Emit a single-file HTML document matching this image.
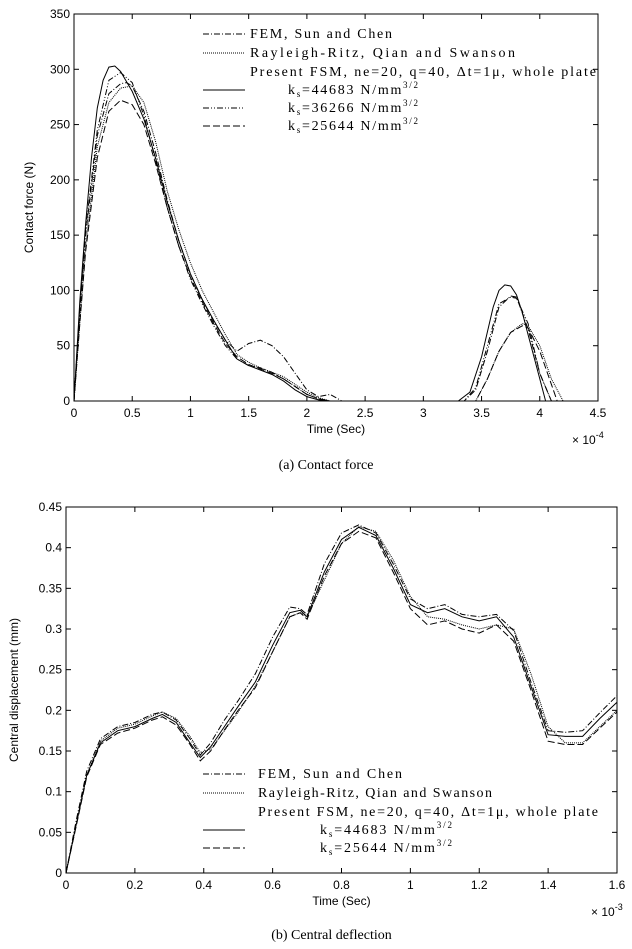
<!DOCTYPE html>
<html><head><meta charset="utf-8"><style>
body{margin:0;background:#fff;width:632px;height:944px;overflow:hidden}
svg text{font-family:"Liberation Sans",sans-serif;font-size:12px;fill:#000}
.serif{font-family:"Liberation Serif",serif !important;font-size:14px}
</style></head><body>
<svg id="svg" width="632" height="944" xmlns="http://www.w3.org/2000/svg"></svg>
<script>
// ---- Chart (a) contact force, time in 1e-4 s ----
const aTicksX=[0,0.5,1,1.5,2,2.5,3,3.5,4,4.5];
const aTicksY=[0,50,100,150,200,250,300,350];
const aSolidT=[0,0.05,0.1,0.15,0.2,0.25,0.3,0.35,0.4,0.5,0.6,0.7,0.8,0.9,1.0,1.1,1.2,1.3,1.4,1.5,1.6,1.7,1.8,1.9,2.0,2.1,2.2,3.3,3.4,3.5,3.6,3.65,3.7,3.75,3.8,3.85,3.9,4.0,4.05];
const aSolidV=[0,90,160,220,265,290,302,303,298,280,255,220,180,145,115,92,73,55,38,32,28,24,18,10,4,1,0,0,8,40,85,100,105,104,96,80,60,20,0];
const aFemT=[0,0.05,0.1,0.2,0.3,0.4,0.45,0.5,0.6,0.7,0.8,0.9,1.0,1.1,1.2,1.3,1.4,1.5,1.6,1.7,1.8,1.9,2.0,2.1,2.2,2.3,3.35,3.45,3.55,3.65,3.75,3.8,3.9,4.0,4.1];
const aFemV=[0,80,150,240,278,287,288,285,262,225,182,145,115,92,72,55,45,52,55,50,40,25,10,4,6,0,0,10,45,85,95,94,65,25,0];
const aRrT=[0,0.05,0.1,0.2,0.3,0.4,0.5,0.6,0.7,0.8,0.9,1.0,1.1,1.2,1.3,1.4,1.5,1.6,1.7,1.8,1.9,2.0,2.1,2.2,3.45,3.55,3.65,3.75,3.85,3.9,4.0,4.1,4.2];
const aRrV=[0,70,140,230,270,283,285,270,235,190,155,125,100,80,60,42,35,30,26,22,15,8,3,0,0,20,45,62,70,68,50,20,0];
const aK2T=[0,0.05,0.1,0.2,0.3,0.4,0.5,0.6,0.7,0.8,0.9,1.0,1.1,1.2,1.3,1.4,1.5,1.6,1.7,1.8,1.9,2.0,2.1,2.2,3.35,3.45,3.55,3.65,3.75,3.8,3.9,4.0,4.1];
const aK2V=[0,85,155,245,290,297,288,258,218,175,140,110,88,68,50,38,32,30,26,20,13,6,2,0,0,12,50,88,94,93,70,25,0];
const aK3T=[0,0.05,0.1,0.2,0.3,0.4,0.5,0.6,0.7,0.8,0.9,1.0,1.1,1.2,1.3,1.4,1.5,1.6,1.7,1.8,1.9,2.0,2.1,2.2,3.45,3.55,3.65,3.75,3.85,3.9,4.0,4.1,4.15];
const aK3V=[0,70,135,220,262,272,268,250,215,175,140,112,90,70,52,40,33,29,25,20,13,6,2,0,0,20,45,62,68,66,45,15,0];
// ---- Chart (b) central deflection, time in 1e-3 s ----
const bTicksX=[0,0.2,0.4,0.6,0.8,1,1.2,1.4,1.6];
const bTicksY=[0,0.05,0.1,0.15,0.2,0.25,0.3,0.35,0.4,0.45];
const bT=[0,0.03,0.06,0.1,0.15,0.2,0.25,0.28,0.32,0.36,0.39,0.42,0.46,0.5,0.55,0.6,0.65,0.68,0.7,0.75,0.8,0.85,0.9,0.95,1.0,1.05,1.1,1.15,1.2,1.25,1.3,1.35,1.4,1.45,1.5,1.55,1.6];
const bSolid=[0,0.06,0.12,0.16,0.175,0.18,0.19,0.195,0.185,0.16,0.142,0.155,0.18,0.205,0.235,0.28,0.32,0.323,0.315,0.37,0.41,0.425,0.415,0.375,0.33,0.32,0.325,0.315,0.31,0.315,0.29,0.23,0.17,0.168,0.168,0.19,0.21];
const bFem=[0,0.065,0.125,0.165,0.18,0.185,0.195,0.198,0.188,0.165,0.145,0.16,0.188,0.212,0.245,0.29,0.327,0.325,0.318,0.38,0.418,0.428,0.418,0.38,0.337,0.325,0.33,0.318,0.315,0.318,0.298,0.235,0.175,0.173,0.175,0.197,0.218];
const bRr=[0,0.06,0.12,0.162,0.178,0.183,0.193,0.198,0.19,0.168,0.148,0.152,0.175,0.198,0.23,0.272,0.315,0.32,0.315,0.36,0.405,0.426,0.42,0.385,0.34,0.315,0.312,0.305,0.3,0.305,0.3,0.245,0.18,0.16,0.16,0.18,0.2];
const bK3=[0,0.058,0.118,0.158,0.172,0.178,0.188,0.192,0.182,0.158,0.138,0.15,0.176,0.2,0.228,0.272,0.315,0.32,0.312,0.365,0.405,0.42,0.412,0.37,0.325,0.305,0.31,0.3,0.295,0.305,0.285,0.225,0.162,0.158,0.158,0.178,0.198];

const svg=document.getElementById('svg');const NS='http://www.w3.org/2000/svg';
function el(tag,attrs,parent){const e=document.createElementNS(NS,tag);for(const k in attrs)e.setAttribute(k,attrs[k]);(parent||svg).appendChild(e);return e;}
function txt(x,y,s,anchor,cls,parent){const t=el('text',{x:x,y:y,'text-anchor':anchor||'start'},parent);if(cls)t.setAttribute('class',cls);t.textContent=s;return t;}

function chart(cfg){
  const g=el('g',{});
  
  
  const sx=v=>cfg.x0+(v-cfg.xmin)/(cfg.xmax-cfg.xmin)*(cfg.x1-cfg.x0);
  const sy=v=>cfg.y0-(v-cfg.ymin)/(cfg.ymax-cfg.ymin)*(cfg.y0-cfg.y1);
  const box=el('rect',{x:cfg.x0,y:cfg.y1,width:cfg.x1-cfg.x0,height:cfg.y0-cfg.y1,fill:'none',stroke:'#000','stroke-width':1},g);
  
  
  cfg.tx.forEach(v=>{const x=sx(v);
    el('line',{x1:x,x2:x,y1:cfg.y0,y2:cfg.y0-5,stroke:'#000'},g);el('line',{x1:x,x2:x,y1:cfg.y1,y2:cfg.y1+5,stroke:'#000'},g);
    const t=txt(x,cfg.y0+16,String(v),'middle',null,g);});
  cfg.ty.forEach(v=>{const y=sy(v);
    el('line',{x1:cfg.x0,x2:cfg.x0+5,y1:y,y2:y,stroke:'#000'},g);el('line',{x1:cfg.x1,x2:cfg.x1-5,y1:y,y2:y,stroke:'#000'},g);
    const t=txt(cfg.x0-4,y+4,String(v),'end',null,g);});
  const xt=txt((cfg.x0+cfg.x1)/2,cfg.y0+32,'Time  (Sec)','middle',null,g);
  xt.setAttribute('font-size','13');
  
  const ex=el('text',{x:cfg.x1-26,y:cfg.y0+43},g);ex.innerHTML='× 10<tspan dy="-6" font-size="9">'+cfg.exp+'</tspan>';
  
  const yt=el('text',{x:0,y:0,transform:'translate('+cfg.ytx+','+((cfg.y0+cfg.y1)/2)+') rotate(-90)','text-anchor':'middle'},g);yt.textContent=cfg.ytitle;
  
  cfg.series.forEach(s=>{
    const d=s.t.map((t,i)=>(i?'L':'M')+sx(t).toFixed(1)+','+sy(s.v[i]).toFixed(1)).join('');
    const p=el('path',{d:d,fill:'none',stroke:'#000','stroke-width':1,'stroke-dasharray':s.dash||'none'},g);
    
  });
  const lg=el('g',{},g);
  cfg.legend.forEach(r=>{
    if(r.dash!==undefined){el('line',{x1:cfg.lx1,x2:cfg.lx2,y1:r.y-4,y2:r.y-4,stroke:'#000','stroke-dasharray':r.dash||'none'},lg);}
    const t=el('text',{x:r.x,y:r.y,'class':'serif',textLength:r.w,lengthAdjust:'spacing'},lg);t.innerHTML=r.html;
    
  });
  const c=txt((cfg.x0+cfg.x1)/2-10,cfg.capY,cfg.caption,'middle','serif',g);c.setAttribute('font-size','12');
  
}
const ks='k<tspan dy="3" font-size="9">s</tspan><tspan dy="-3">=</tspan>';
const sup='<tspan dy="-6" font-size="9">3/2</tspan>';
chart({name:'contact-force-chart',x0:74,x1:598,y0:401,y1:14,xmin:0,xmax:4.5,ymin:0,ymax:350,tx:aTicksX,ty:aTicksY,exp:'-4',ytx:33,ytitle:'Contact force (N)',
  capY:469,caption:'(a) Contact force',lx1:203,lx2:245,
  series:[{name:'series-fem',t:aFemT,v:aFemV,dash:'6,2,1,2'},{name:'series-rayleigh-ritz',t:aRrT,v:aRrV,dash:'1,1'},{name:'series-ks-44683',t:aSolidT,v:aSolidV},{name:'series-ks-36266',t:aK2T,v:aK2V,dash:'6,2,1,2,1,2'},{name:'series-ks-25644',t:aK3T,v:aK3V,dash:'7,3'}],
  legend:[{y:38,x:250,w:142,dash:'6,2,1,2',html:'FEM, Sun and Chen'},{y:57,x:250,w:265,dash:'1,1',html:'Rayleigh-Ritz, Qian and Swanson'},{y:76,x:250,w:346,html:'Present FSM, ne=20, q=40, Δt=1μ, whole plate'},
   {y:94,x:288,w:130,dash:'',html:ks+'44683 N/mm'+sup},{y:112,x:288,w:130,dash:'6,2,1,2,1,2',html:ks+'36266 N/mm'+sup},{y:130,x:288,w:130,dash:'7,3',html:ks+'25644 N/mm'+sup}]});
chart({name:'central-deflection-chart',x0:66,x1:617,y0:873,y1:507,xmin:0,xmax:1.6,ymin:0,ymax:0.45,tx:bTicksX,ty:bTicksY,exp:'-3',ytx:18,ytitle:'Central displacement (mm)',
  capY:939,caption:'(b) Central deflection',lx1:203,lx2:245,
  series:[{name:'series-fem',t:bT,v:bFem,dash:'6,2,1,2'},{name:'series-rayleigh-ritz',t:bT,v:bRr,dash:'1,1'},{name:'series-ks-44683',t:bT,v:bSolid},{name:'series-ks-25644',t:bT,v:bK3,dash:'7,3'}],
  legend:[{y:778,x:258,w:144,dash:'6,2,1,2',html:'FEM, Sun and Chen'},{y:797,x:258,w:234,dash:'1,1',html:'Rayleigh-Ritz, Qian and Swanson'},{y:816,x:258,w:340,html:'Present FSM, ne=20, q=40, Δt=1μ, whole plate'},
   {y:834,x:320,w:132,dash:'',html:ks+'44683 N/mm'+sup},{y:852,x:320,w:132,dash:'7,3',html:ks+'25644 N/mm'+sup}]});
</script>
</body></html>
